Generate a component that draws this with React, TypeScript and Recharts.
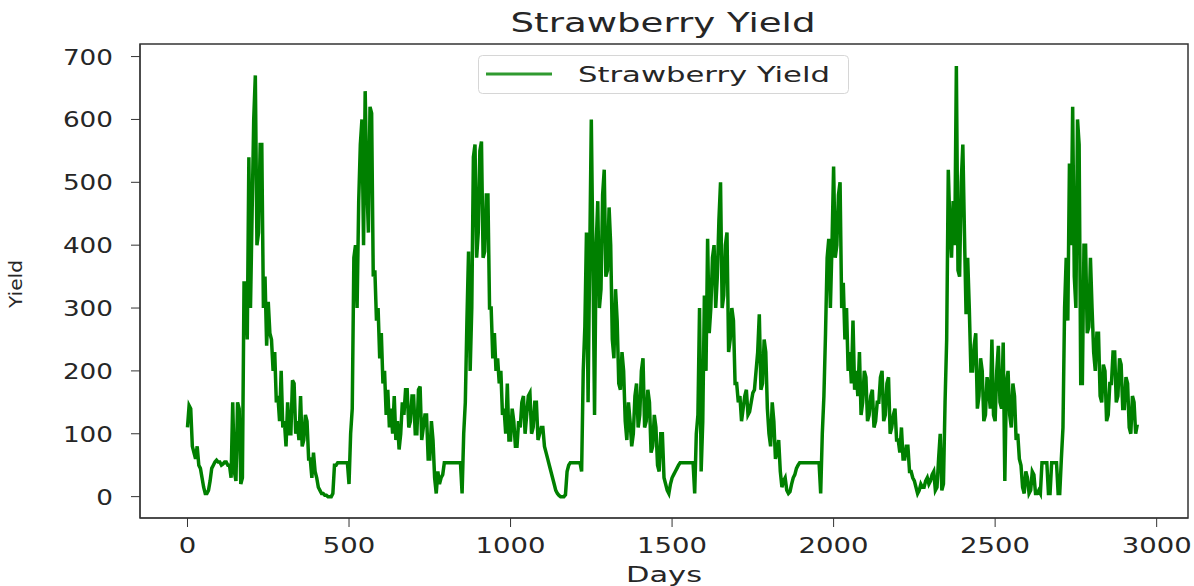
import { LineChart, Line, XAxis, YAxis } from 'recharts';

const sampleStep = 5;
const yieldByFiveDays: number[] = [
    110, 145, 140, 80, 70, 60, 80, 50, 45, 30, 15, 5, 5, 10, 25, 45, 50, 55, 58, 55,
    55, 50, 52, 55, 55, 50, 50, 30, 150, 40, 25, 150, 140, 20, 30, 340, 340, 250, 540, 300,
    450, 600, 670, 400, 420, 560, 560, 300, 350, 240, 310, 260, 250, 200, 230, 150, 160, 120, 200, 110,
    120, 80, 150, 100, 100, 185, 180, 100, 120, 90, 160, 80, 90, 130, 120, 60, 60, 30, 70, 40,
    30, 15, 10, 5, 5, 2, 2, 0, 0, 0, 5, 50, 50, 54, 54, 54, 54, 54, 54, 54,
    20, 100, 140, 380, 400, 300, 470, 560, 600, 400, 645, 500, 420, 620, 610, 350, 360, 280, 300, 220,
    260, 180, 200, 130, 170, 110, 140, 100, 160, 90, 120, 75, 100, 150, 130, 170, 170, 110, 120, 160,
    160, 100, 100, 170, 175, 90, 110, 130, 130, 60, 60, 120, 90, 30, 5, 40, 20, 30, 35, 54,
    54, 54, 54, 54, 54, 54, 54, 54, 54, 54, 5, 100, 150, 280, 390, 200, 300, 540, 560, 380,
    420, 550, 565, 380, 390, 480, 480, 300, 300, 220, 260, 200, 220, 180, 200, 130, 140, 100, 180, 90,
    90, 140, 120, 80, 80, 120, 110, 150, 160, 100, 130, 160, 165, 100, 110, 150, 150, 90, 100, 110,
    110, 80, 70, 60, 50, 40, 30, 20, 10, 5, 2, 0, 0, 0, 3, 40, 50, 54, 54, 54,
    54, 54, 54, 54, 40, 200, 270, 420, 150, 380, 600, 380, 130, 400, 470, 300, 330, 480, 520, 350,
    360, 460, 400, 250, 220, 330, 280, 180, 170, 230, 200, 120, 90, 150, 120, 80, 100, 160, 180, 110,
    130, 200, 220, 110, 120, 170, 150, 70, 80, 130, 110, 50, 40, 100, 100, 30, 20, 10, 5, 20,
    30, 35, 40, 45, 50, 54, 54, 54, 54, 54, 54, 54, 54, 54, 5, 100, 130, 300, 40, 120,
    320, 200, 410, 260, 300, 380, 400, 300, 350, 440, 500, 300, 320, 400, 420, 230, 250, 300, 280, 180,
    180, 150, 160, 120, 140, 160, 170, 130, 135, 150, 165, 170, 200, 230, 290, 170, 180, 250, 230, 140,
    100, 80, 150, 120, 60, 70, 90, 40, 15, 25, 30, 10, 5, 8, 20, 30, 35, 45, 50, 54,
    54, 54, 54, 54, 54, 54, 54, 54, 54, 54, 54, 54, 5, 100, 160, 260, 380, 410, 300, 400,
    525, 380, 400, 480, 500, 300, 340, 250, 300, 200, 230, 180, 280, 170, 200, 160, 230, 130, 150, 200,
    190, 120, 130, 160, 170, 110, 120, 150, 150, 190, 200, 120, 130, 180, 190, 100, 110, 130, 140, 90,
    90, 70, 110, 60, 60, 80, 80, 40, 40, 30, 25, 15, 5, 10, 20, 15, 15, 25, 30, 20,
    25, 35, 40, 10, 15, 60, 100, 10, 20, 150, 250, 520, 430, 380, 470, 400, 685, 360, 350, 500,
    560, 420, 290, 380, 300, 200, 200, 240, 260, 140, 160, 220, 200, 120, 130, 190, 170, 140, 250, 130,
    120, 200, 240, 150, 140, 245, 25, 180, 200, 130, 110, 180, 160, 90, 100, 60, 50, 15, 5, 40,
    30, 5, 10, 40, 35, 5, 5, 10, 5, 54, 54, 54, 54, 5, 5, 54, 54, 54, 54, 5,
    5, 60, 110, 300, 380, 280, 530, 400, 620, 350, 300, 600, 560, 180, 180, 400, 400, 260, 270, 380,
    300, 230, 200, 260, 260, 160, 150, 210, 200, 120, 130, 180, 180, 230, 230, 150, 160, 220, 210, 140,
    140, 190, 180, 110, 100, 160, 150, 100, 115,
];

const xTicks = [0, 500, 1000, 1500, 2000, 2500, 3000];
const yTicks = [0, 100, 200, 300, 400, 500, 600, 700];

const data = yieldByFiveDays.map((v, i) => ({ day: i * sampleStep, yield: v }));

const FONT = '"DejaVu Sans", sans-serif';
const TEXT = '#262626';
const FRAME = '#333';

const XTick = (props: any) => {
    const { x, y, payload } = props;
    const label = String(payload.value);
    return (
        <text x={x} y={y + 26} textAnchor="middle" fontSize={22} fill={TEXT} fontFamily={FONT}
            textLength={label.length * 17.5} lengthAdjust="spacingAndGlyphs">
            {label}
        </text>
    );
};

const YTick = (props: any) => {
    const { x, y, payload } = props;
    const label = String(payload.value);
    return (
        <text x={x - 16} y={y + 8} textAnchor="end" fontSize={22} fill={TEXT} fontFamily={FONT}
            textLength={label.length * 16.7} lengthAdjust="spacingAndGlyphs">
            {label}
        </text>
    );
};

// title, frame and legend box drawn over the chart
const Overlay = () => (
    <svg width={1194} height={586} style={{ position: 'absolute', left: 0, top: 0, pointerEvents: 'none' }}>
        <text x={663} y={32} textAnchor="middle" fontSize={26} fill={TEXT} fontFamily={FONT}
            textLength={305} lengthAdjust="spacingAndGlyphs">
            Strawberry Yield
        </text>
        <rect x={140} y={44} width={1048} height={474} fill="none" stroke={FRAME} strokeWidth={1.5} />
        <g transform="translate(478 55)">
            <rect x={0.5} y={0.5} width={370} height={38} rx={4} fill="#fff" fillOpacity={0.8} stroke="#d6d6d6" />
            <line x1={8} x2={74} y1={19} y2={19} stroke="#2f9a2f" strokeWidth={3} />
            <text x={100} y={27} fontSize={22} fill={TEXT} fontFamily={FONT}
                textLength={252} lengthAdjust="spacingAndGlyphs">
                Strawberry Yield
            </text>
        </g>
    </svg>
);

const App = () => {
    return (
        <div style={{ position: 'absolute', left: 0, top: 0, width: 1194, height: 586, background: '#fff' }}>
            <LineChart
                width={1194}
                height={586}
                data={data}
                margin={{ top: 44, right: 6, left: 0, bottom: 0 }}
            >
                <XAxis
                    dataKey="day"
                    type="number"
                    domain={[-147, 3097]}
                    ticks={xTicks}
                    height={68}
                    tickSize={9}
                    tickMargin={0}
                    tick={<XTick />}
                    stroke={FRAME}
                    allowDataOverflow
                    label={{
                        content: (p: any) => (
                            <text x={p.viewBox.x + p.viewBox.width / 2} y={582} textAnchor="middle"
                                fontSize={22} fill={TEXT} fontFamily={FONT}
                                textLength={76} lengthAdjust="spacingAndGlyphs">
                                Days
                            </text>
                        ),
                    }}
                />
                <YAxis
                    domain={[-34, 720]}
                    ticks={yTicks}
                    width={140}
                    tickSize={9}
                    tick={<YTick />}
                    stroke={FRAME}
                    allowDataOverflow
                    label={{
                        content: () => (
                            <text x={0} y={0} transform="translate(22 284) rotate(-90)" textAnchor="middle"
                                fontSize={18} fill={TEXT} fontFamily={FONT}
                                textLength={48} lengthAdjust="spacingAndGlyphs">
                                Yield
                            </text>
                        ),
                    }}
                />
                <Line
                    type="linear"
                    dataKey="yield"
                    name="Strawberry Yield"
                    stroke="#008000"
                    strokeWidth={3.5}
                    dot={false}
                    isAnimationActive={false}
                />
            </LineChart>
            <Overlay />
        </div>
    );
};

export default App;
